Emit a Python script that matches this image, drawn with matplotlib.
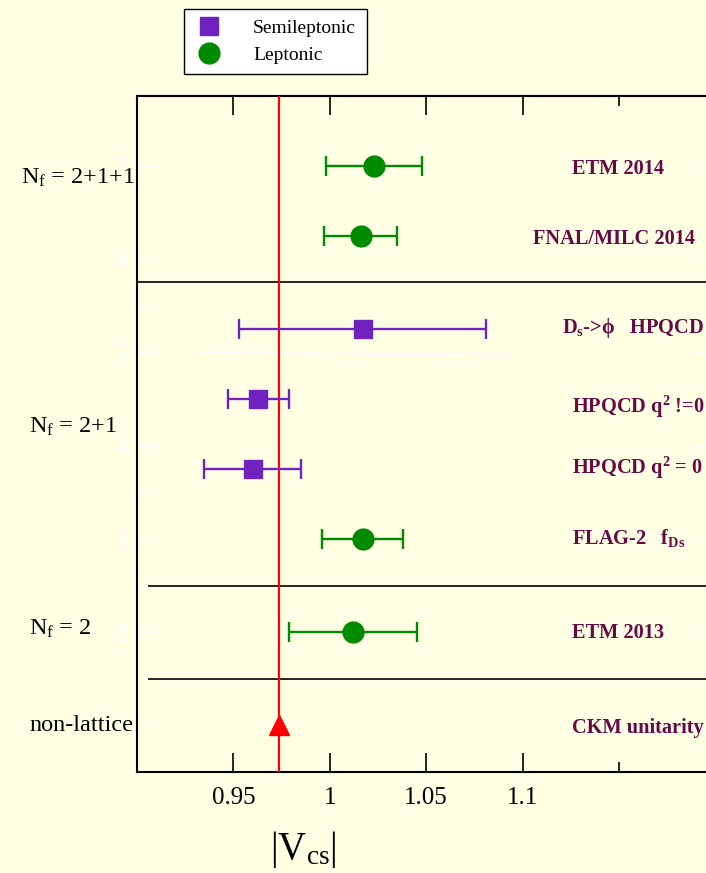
import matplotlib
matplotlib.use("Agg")
import matplotlib.pyplot as plt
import matplotlib.transforms as mtransforms
from matplotlib.lines import Line2D

plt.rcParams['font.family'] = ['Liberation Serif', 'DejaVu Serif']
plt.rcParams['mathtext.fontset'] = 'custom'
plt.rcParams['mathtext.rm'] = 'Liberation Serif'
plt.rcParams['mathtext.it'] = 'Liberation Serif:italic'
plt.rcParams['mathtext.bf'] = 'Liberation Serif:bold'

# results, top to bottom
labels = ["ETM 2014", "FNAL/MILC 2014", r"D$_\mathbf{s}$->ϕ   HPQCD",
          r"HPQCD q$^\mathbf{2}$ !=0", r"HPQCD q$^\mathbf{2}$ = 0",
          r"FLAG-2   f$_\mathbf{Ds}$", "ETM 2013"]
vcs = [1.023, 1.016, 1.017, 0.963, 0.960, 1.017, 1.012]
err = [0.025, 0.019, 0.064, 0.016, 0.025, 0.021, 0.033]
kind = ["lep", "lep", "semi", "semi", "semi", "lep", "lep"]
rows = [7, 6.25, 5.25, 4.5, 3.75, 3, 2]
label_x = [1.1255, 1.1055, 1.1205, 1.1255, 1.1255, 1.1255, 1.1255]
label_base = [6.91, 6.16, 5.21, 4.35, 3.70, 2.94, 1.94]

ckm_value = 0.9734
ckm_row = 1
ckm_base = 0.915

groups = [r"N$_\mathrm{f}$ = 2+1+1", r"N$_\mathrm{f}$ = 2+1", r"N$_\mathrm{f}$ = 2", "non-lattice"]
group_rows = [6.87, 4.2, 2.03, 1.0]
group_px = [21, 29, 29, 29]
separators = [5.75, 2.5, 1.5]

bg = '#FFFFE4'
green = '#008A00'
purple = '#6F22BE'
maroon = '#650A45'

fig = plt.figure(figsize=(7.06, 8.73), dpi=100, facecolor=bg)
ax = fig.add_axes([137/706, 101/873, 578.4/706, 676/873], facecolor=bg)
ax.set_xlim(0.9, 1.2)
ax.set_ylim(0.5, 7.75)

for y, v, e, k in zip(rows, vcs, err, kind):
    if k == "lep":
        ax.errorbar(v, y, xerr=e, fmt='o', color=green, ms=15, lw=1.7,
                    capsize=7, capthick=1.7, zorder=4)
    else:
        ax.errorbar(v, y, xerr=e, fmt='s', color=purple, ms=12.5, lw=1.7,
                    capsize=7, capthick=1.7, zorder=4)

for yb, t, lx in zip(label_base, labels, label_x):
    ax.text(lx, yb, t, color=maroon, fontsize=14.7, fontweight='bold',
            va='baseline', ha='left', clip_on=False)

ax.axvline(ckm_value, color='red', lw=1.6, zorder=3)
ax.plot(ckm_value, ckm_row, '^', color='red', ms=14, zorder=5)
ax.text(1.1255, ckm_base, "CKM unitarity", color=maroon, fontsize=14.7,
        fontweight='bold', va='baseline', ha='left')

ax.hlines(separators[0], 0.9, 1.2, color='black', lw=1.2, zorder=2)
ax.hlines(separators[1:], 0.9055, 1.2, color='black', lw=1.2, zorder=2)

# faint white stroke near row 5
ax.plot([0.934, 1.095], [5.0, 4.965], color='white', lw=1.2, zorder=1)

trans = mtransforms.blended_transform_factory(fig.transFigure, ax.transData)
for t, y, px in zip(groups, group_rows, group_px):
    fig.text(px/706, y, t, transform=trans, fontsize=17.5, va='center', ha='left')

ax.set_xticks([0.95, 1.0, 1.05, 1.1])
ax.set_xticklabels(["0.95", "1", "1.05", "1.1"])
ax.set_xticks([1.15], minor=True)
ax.tick_params(axis='x', which='both', direction='in', top=True, bottom=True,
               labelsize=18, pad=11, width=1.2, color='black')
ax.tick_params(axis='x', which='major', length=14)
ax.tick_params(axis='x', which='minor', length=7)

ax.set_yticks([1, 2, 3, 4, 5, 6, 7])
ax.set_yticks([1.5, 2.5, 3.5, 4.5, 5.5, 6.5, 7.5], minor=True)
ax.tick_params(axis='y', which='both', direction='in', left=True, right=True,
               colors='white', labelsize=18, pad=6, width=1.0)
ax.tick_params(axis='y', which='major', length=13)
ax.tick_params(axis='y', which='minor', length=6.5)

for s in ax.spines.values():
    s.set_linewidth(1.5)

ax.set_xlabel(r"|V$_\mathrm{cs}$|", fontsize=28, labelpad=8)
ax.xaxis.set_label_coords((303 - 137) / 578.4, -0.085)

handles = [Line2D([], [], ls='none', marker='s', color=purple, ms=12.5),
           Line2D([], [], ls='none', marker='o', color=green, ms=15)]
leg = fig.legend(handles, ["Semileptonic", "Leptonic"], loc='upper left',
                 bbox_to_anchor=(184/706, 1 - 9/873), fontsize=14,
                 frameon=True, fancybox=False, edgecolor='black',
                 facecolor='white', framealpha=1, handlelength=1.5,
                 handletextpad=1.5, borderpad=0.55, labelspacing=0.45,
                 borderaxespad=0)
leg.get_frame().set_linewidth(1.0)

fig.savefig("out.png", dpi=100, facecolor=bg)
